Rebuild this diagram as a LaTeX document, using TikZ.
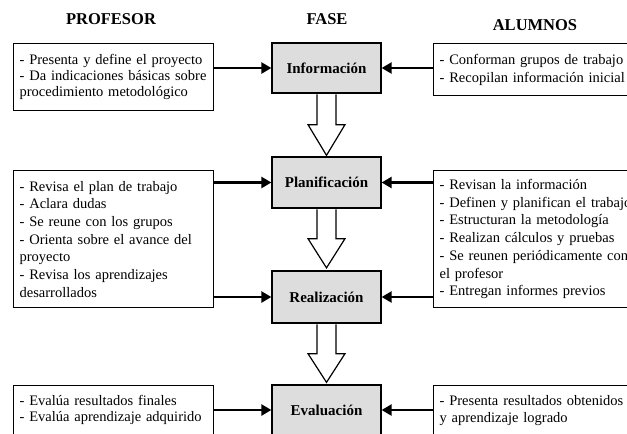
\documentclass[tikz,border=0pt]{standalone}
\usepackage{fontspec}
\setmainfont{Liberation Serif}
\usetikzlibrary{arrows.meta, positioning, calc}
\definecolor{fasegray}{RGB}{221,221,221}

\begin{document}
\begin{tikzpicture}[x=1pt, y=-1pt,
        title/.style={font=\fontsize{16.5}{18}\selectfont\bfseries},
        fase/.style={rectangle, draw=black, line width=1.3pt, fill=fasegray, minimum width=109pt,
                     font=\fontsize{15}{17}\selectfont\bfseries},
        tarea/.style={rectangle, draw=black, line width=1.3pt, fill=white, align=left,
                      inner xsep=6pt, inner ysep=6pt, font=\fontsize{14.5}{17.7}\selectfont},
        arrow/.style={-{Triangle[length=10pt, width=11pt]}, line width=2.6pt},
        hollow/.style={draw=black, line width=1.2pt, fill=white, line join=miter}
    ]
        \useasboundingbox (0,0) rectangle (627,434);
        \clip (0,0) rectangle (627,434);

        % titulos
        \node[title] (tprof) at (111,19) {PROFESOR};
        \node[title] (tfase) at (327,19) {FASE};
        \node[title] (talum) at (535,25) {ALUMNOS};

        % fases
        \node[fase, minimum height=50pt] (info) at (326.5,68) {Información};
        \node[fase, minimum height=51pt] (plan) at (326.5,182.5) {Planificación};
        \node[fase, minimum height=52pt] (real) at (326.5,297) {Realización};
        \node[fase, minimum height=50pt] (eval) at (326.5,410) {Evaluación};

        % profesor
        \node[tarea, text width=188pt, minimum height=67pt, anchor=north west,
              font=\fontsize{14.5}{16.3}\selectfont] (prof1) at (13,43)
            {- Presenta y define el proyecto\\- Da indicaciones básicas sobre\\procedimiento metodológico};
        \node[tarea, text width=188pt, minimum height=137pt, anchor=north west] (prof2) at (13,170)
            {- Revisa el plan de trabajo\\- Aclara dudas\\- Se reune con los grupos\\- Orienta sobre el avance del\\proyecto\\- Revisa los aprendizajes\\desarrollados};
        \node[tarea, text width=188pt, inner ysep=10pt, anchor=north west,
              font=\fontsize{14.5}{15.5}\selectfont] (prof3) at (13,385)
            {- Evalúa resultados finales\\- Evalúa aprendizaje adquirido\\ \strut};

        % alumnos
        \node[tarea, text width=250pt, minimum height=52pt, anchor=north west] (alum1) at (433,43)
            {- Conforman grupos de trabajo\\- Recopilan información inicial};
        \node[tarea, text width=250pt, minimum height=137pt, anchor=north west] (alum2) at (433,170)
            {- Revisan la información\\- Definen y planifican el trabajo\\- Estructuran la metodología\\- Realizan cálculos y pruebas\\- Se reunen periódicamente con\\el profesor\\- Entregan informes previos};
        \node[tarea, text width=250pt, inner ysep=10pt, anchor=north west,
              font=\fontsize{14.5}{16.5}\selectfont] (alum3) at (433,385)
            {- Presenta resultados obtenidos\\y aprendizaje logrado\\ \strut};

        % flechas horizontales
        \draw[arrow] (prof1.east |- info) -- (info.west);
        \draw[arrow] (alum1.west |- info) -- (info.east);
        \draw[arrow] (prof2.east |- plan) -- (plan.west);
        \draw[arrow] (prof2.east |- real) -- (real.west);
        \draw[arrow] (alum2.west |- plan) -- (plan.east);
        \draw[arrow] (alum2.west |- real) -- (real.east);
        \draw[arrow] (prof3.east |- eval) -- (eval.west);
        \draw[arrow] (alum3.west |- eval) -- (eval.east);

        % flechas huecas entre fases
        \draw[hollow] ($(info.south)+(-9.5,0.6)$) -- ++(0,30.4) -- ++(-9,0) -- ($(plan.north)+(0,-1)$)
            -- ($(info.south)+(18.5,31)$) -- ++(-9,0) -- ($(info.south)+(9.5,0.6)$);
        \draw[hollow] ($(plan.south)+(-9.5,0.6)$) -- ++(0,29.4) -- ++(-9,0) -- ($(real.north)+(0,-2.5)$)
            -- ($(plan.south)+(18.5,30)$) -- ++(-9,0) -- ($(plan.south)+(9.5,0.6)$);
        \draw[hollow] ($(real.south)+(-9.5,0.6)$) -- ++(0,29.4) -- ++(-9,0) -- ($(eval.north)+(0,-2)$)
            -- ($(real.south)+(18.5,30)$) -- ++(-9,0) -- ($(real.south)+(9.5,0.6)$);
    \end{tikzpicture}
\end{document}
